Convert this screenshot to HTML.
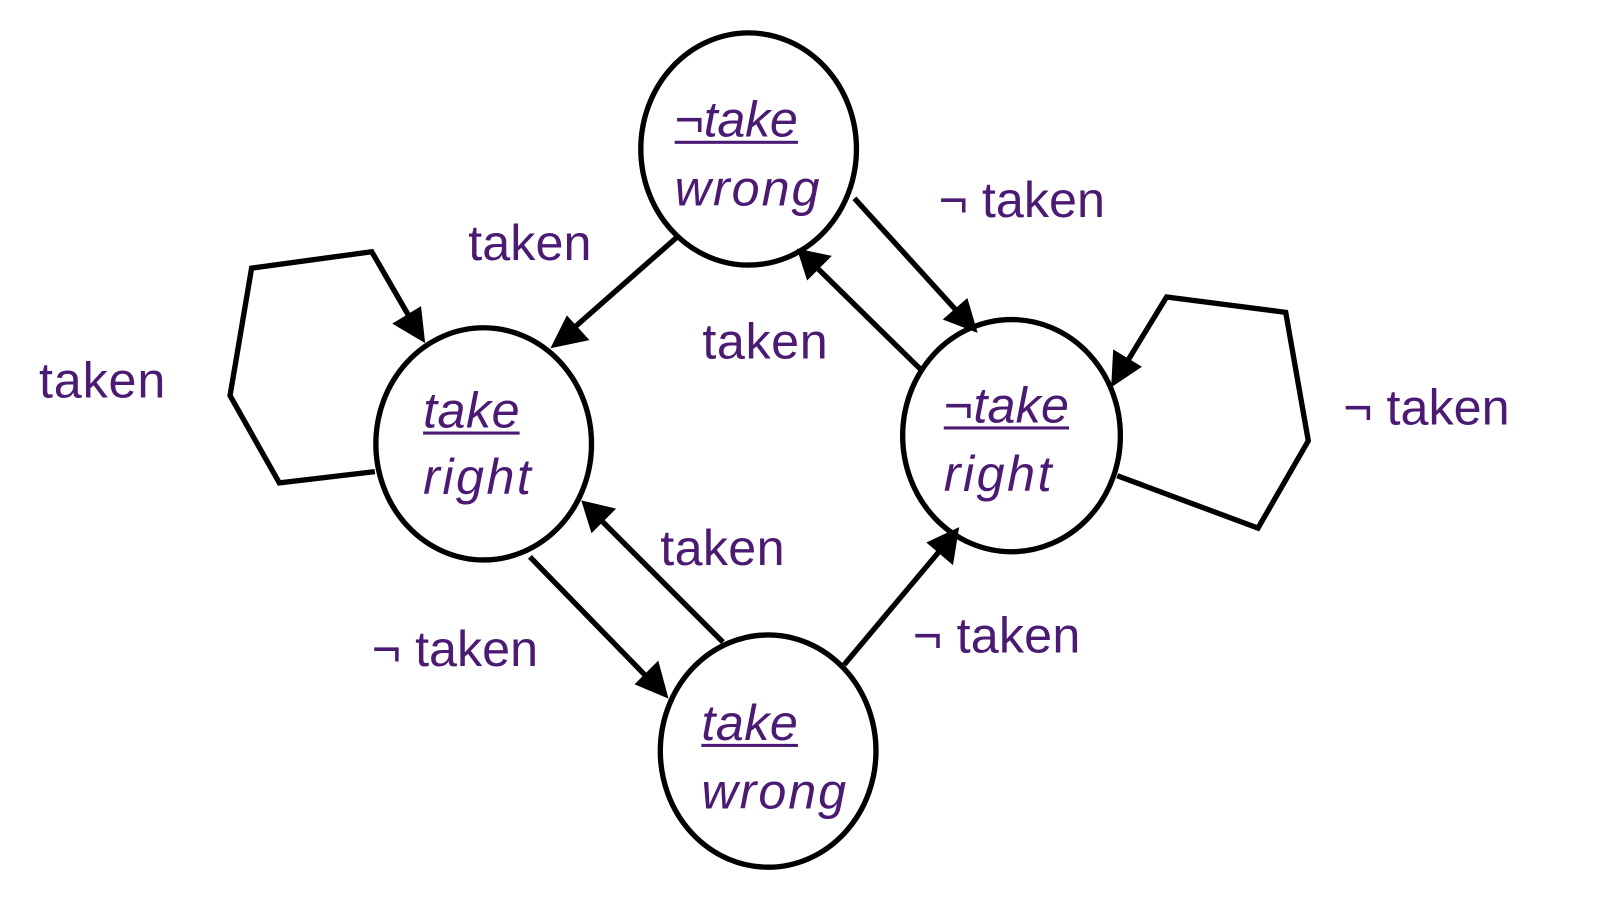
<!DOCTYPE html>
<html><head><meta charset="utf-8"><style>
html,body{margin:0;padding:0;background:#fff;width:1602px;height:898px;overflow:hidden}
svg{display:block}
text{font-family:"Liberation Sans",sans-serif;fill:#4b1a73;font-size:49px}
.i{font-style:italic}
</style></head><body>
<svg width="1602" height="898" viewBox="0 0 1560 874" preserveAspectRatio="none">
<g transform="translate(-4,-3)">
<g fill="none" stroke="#000" stroke-width="5.2">
<ellipse cx="733" cy="148" rx="105" ry="113"/>
<ellipse cx="475" cy="435" rx="105" ry="113"/>
<ellipse cx="989" cy="427" rx="106" ry="113"/>
<ellipse cx="752" cy="734" rx="105" ry="113"/>
<line x1="663" y1="234" x2="563" y2="322"/>
<line x1="836" y1="196" x2="936" y2="306"/>
<line x1="900" y1="362" x2="801" y2="265"/>
<polyline points="369,462 276,473 228,388 249,264 366,248 403,312"/>
<polyline points="1092,466 1229,517 1278,432 1256,307 1140,292 1101,356"/>
<line x1="520" y1="545" x2="634" y2="662"/>
<line x1="708" y1="628" x2="591" y2="511"/>
<line x1="826" y1="650" x2="920" y2="538"/>
</g>
<g fill="#000">
<polygon points="540,342 556,310 578,334"/>
<polygon points="956,327 922,314 946,293"/>
<polygon points="780,245 814,252 790,276"/>
<polygon points="418,337 386,318 414,301"/>
<polygon points="1086,380 1088,343 1116,360"/>
<polygon points="655,683 622,669 645,646"/>
<polygon points="570,490 604,498 580,522"/>
<polygon points="938,516 932,553 906,531"/>
</g>
<text x="460" y="256" textLength="120">taken</text>
<text x="918" y="214" textLength="162">¬ taken</text>
<text x="688" y="352" textLength="122">taken</text>
<text x="42" y="390" textLength="123">taken</text>
<text x="1312" y="416" textLength="162">¬ taken</text>
<text x="647" y="553" textLength="121">taken</text>
<text x="366" y="651" textLength="162">¬ taken</text>
<text x="893" y="638" textLength="163">¬ taken</text>
<g class="i">
<text x="661" y="136" textLength="120">¬take</text>
<text x="661" y="203" textLength="141">wrong</text>
<text x="416" y="419" textLength="94">take</text>
<text x="416" y="484" textLength="105">right</text>
<text x="923" y="414" textLength="122">¬take</text>
<text x="923" y="481" textLength="105">right</text>
<text x="687" y="723" textLength="94">take</text>
<text x="687" y="790" textLength="141">wrong</text>
</g>
<g fill="#4b1a73" stroke="none">
<rect x="661" y="140" width="120" height="3"/>
<rect x="416" y="423" width="94" height="3"/>
<rect x="923" y="418" width="122" height="3"/>
<rect x="687" y="727" width="94" height="3"/>
</g>
</g>
</svg>
</body></html>
